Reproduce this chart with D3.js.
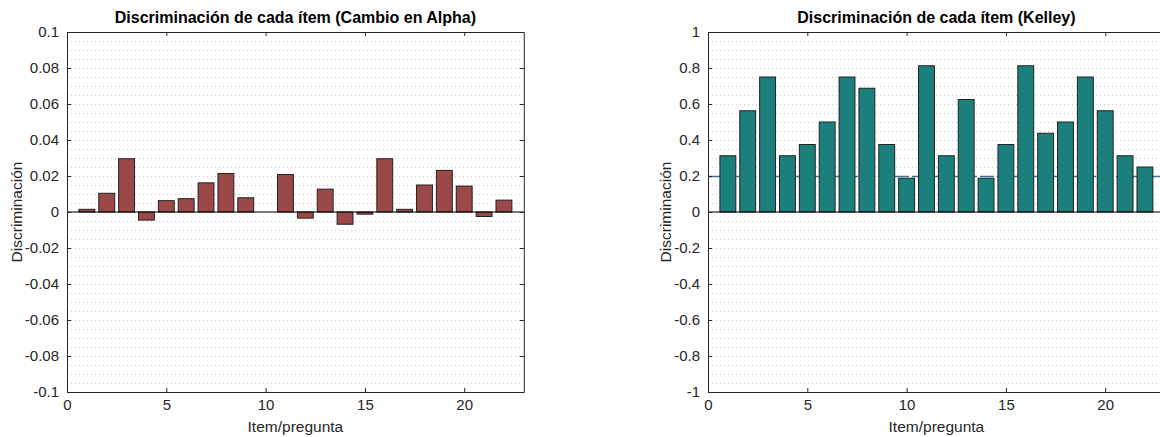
<!DOCTYPE html>
<html>
<head>
<meta charset="utf-8">
<script src="https://cdn.jsdelivr.net/npm/d3@7"></script>
<style>
  body { margin: 0; background: #fff; }
  text { font-family: "Liberation Sans", Arial, sans-serif; }
</style>
</head>
<body>
<script>
// items 1..22
const items = d3.range(1, 23)

// discrimination by change in alpha
const alphaValues = [0.0015, 0.0104, 0.0296, -0.0045, 0.0063, 0.0074, 0.0162, 0.0214, 0.0079, 0,
    0.0208, -0.0034, 0.0127, -0.0068, -0.0012, 0.0296, 0.0015, 0.0150, 0.0231, 0.0144, -0.0025, 0.0066]

// Kelley discrimination index
const kelleyValues = [0.3125, 0.5625, 0.75, 0.3125, 0.375, 0.5, 0.75, 0.6875, 0.375, 0.1875, 0.8125,
    0.3125, 0.625, 0.1875, 0.375, 0.8125, 0.4375, 0.5, 0.75, 0.5625, 0.3125, 0.25]

const xTicks = [0, 5, 10, 15, 20]
const alphaTicks = [-0.1, -0.08, -0.06, -0.04, -0.02, 0, 0.02, 0.04, 0.06, 0.08, 0.1]
const kelleyTicks = [-1, -0.8, -0.6, -0.4, -0.2, 0, 0.2, 0.4, 0.6, 0.8, 1]
const kelleyThreshold = 0.2

const titles = ['Discriminación de cada ítem (Cambio en Alpha)', 'Discriminación de cada ítem (Kelley)']

// append svg to body
let svg = d3.select('body').append('svg')
    .attr('width', 1160)
    .attr('height', 437)

const fmt = d => d === 0 ? '0' : String(+d.toFixed(2))

function drawPanel(left, values, ticks, minorStep, color, title, ylabelOffset, threshold) {
    const top = 32, bottom = 392, width = 456.8
    let x = d3.scaleLinear().domain([0, 23]).range([left, left + width])
    let y = d3.scaleLinear().domain([ticks[0], ticks[ticks.length - 1]]).range([bottom, top])

    let g = svg.append('g')

    // grid (minor + major, dotted)
    let minor = d3.range(ticks[0], ticks[ticks.length - 1] + minorStep / 2, minorStep)
    g.selectAll('.grid').data(minor).enter().append('line')
        .attr('x1', x(0)).attr('x2', x(23))
        .attr('y1', d => Math.round(y(d)) + 0.5).attr('y2', d => Math.round(y(d)) + 0.5)
        .attr('stroke', '#cdcdcd')
        .attr('stroke-width', 1)
        .attr('stroke-dasharray', '1,3')

    // threshold line behind bars
    if (threshold !== undefined) {
        g.append('line')
            .attr('x1', x(0)).attr('x2', x(23))
            .attr('y1', Math.round(y(threshold)) + 0.5).attr('y2', Math.round(y(threshold)) + 0.5)
            .attr('stroke', '#3f7098')
            .attr('stroke-width', 1.6)
            .attr('stroke-dasharray', '14,3')
    }

    // bars
    const bw = x(0.8) - x(0)
    g.selectAll('.bar').data(values).enter().append('rect')
        .attr('x', (d, i) => x(items[i]) - bw / 2)
        .attr('y', d => y(Math.max(d, 0)))
        .attr('width', bw)
        .attr('height', d => Math.abs(y(d) - y(0)))
        .attr('fill', color)
        .attr('stroke', '#222')
        .attr('stroke-width', 1)

    // baseline
    g.append('line')
        .attr('x1', x(0)).attr('x2', x(23))
        .attr('y1', y(0)).attr('y2', y(0))
        .attr('stroke', '#000').attr('stroke-width', 1)

    // axes with inward ticks
    let axB = g.append('g').attr('transform', `translate(0,${bottom})`)
        .call(d3.axisBottom(x).tickValues(xTicks).tickSizeInner(-4).tickSizeOuter(0).tickPadding(7).tickFormat(d3.format('d')))
    let axT = g.append('g').attr('transform', `translate(0,${top})`)
        .call(d3.axisTop(x).tickValues(xTicks).tickSizeInner(-4).tickSizeOuter(0).tickFormat(''))
    let axL = g.append('g').attr('transform', `translate(${left},0)`)
        .call(d3.axisLeft(y).tickValues(ticks).tickSizeInner(-4).tickSizeOuter(0).tickPadding(8).tickFormat(fmt))
    let axR = g.append('g').attr('transform', `translate(${left + width},0)`)
        .call(d3.axisRight(y).tickValues(ticks).tickSizeInner(-4).tickSizeOuter(0).tickFormat(''))

    for (let ax of [axB, axT, axL, axR]) {
        ax.select('.domain').attr('stroke', '#262626')
        ax.selectAll('.tick line').attr('stroke', '#262626')
        ax.selectAll('text').attr('fill', '#262626').style('font-size', '15px')
    }

    // title and labels
    g.append('text')
        .attr('x', (x(0) + x(23)) / 2).attr('y', 23)
        .attr('text-anchor', 'middle')
        .style('font-size', '16px').style('font-weight', 'bold')
        .attr('fill', '#000')
        .text(title)

    g.append('text')
        .attr('x', (x(0) + x(23)) / 2)
        .attr('y', 432)
        .attr('text-anchor', 'middle')
        .style('font-size', '15.5px')
        .attr('fill', '#262626')
        .text('Item/pregunta')

    g.append('text')
        .attr('transform', `translate(${left - ylabelOffset},${(top + bottom) / 2}) rotate(-90)`)
        .attr('text-anchor', 'middle')
        .style('font-size', '15.5px')
        .attr('fill', '#262626')
        .text('Discriminación')
}

drawPanel(67, alphaValues, alphaTicks, 0.005, '#9a4848', titles[0], 45)
drawPanel(708, kelleyValues, kelleyTicks, 0.05, '#1b7f7b', titles[1], 37, kelleyThreshold)
</script>
</body>
</html>
